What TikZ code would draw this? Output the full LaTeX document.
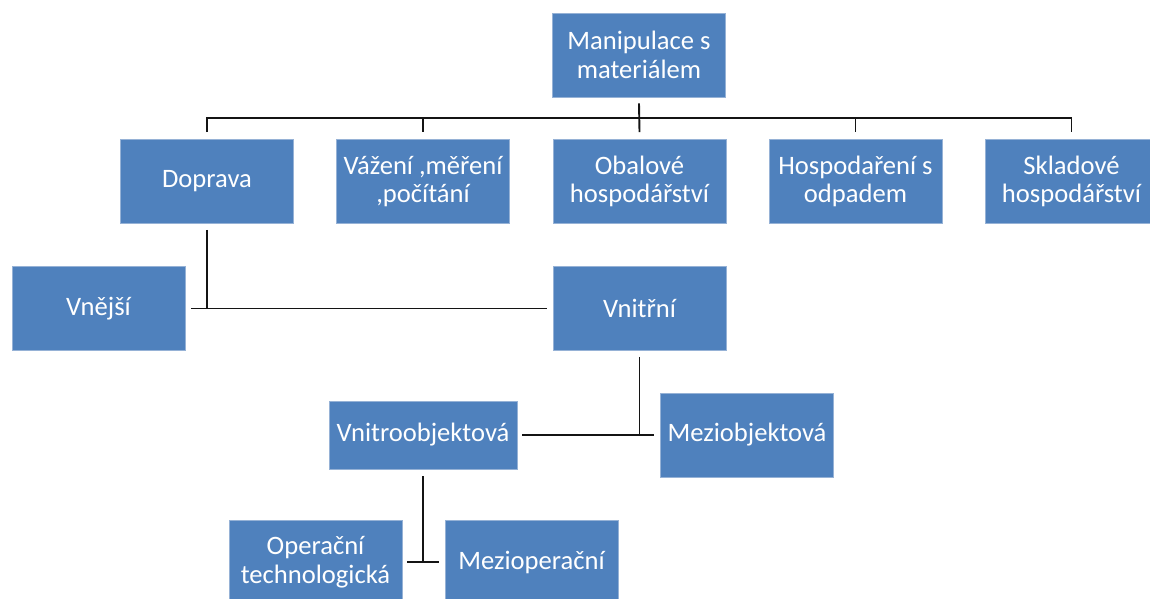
\documentclass[tikz,border=0pt]{standalone}
\usepackage{fontspec}
\setmainfont{Carlito}
\definecolor{boxblue}{RGB}{79,129,189}
\definecolor{boxedge}{RGB}{150,178,214}
\definecolor{linkcol}{RGB}{20,20,20}
\begin{document}
\begin{tikzpicture}[x=1pt,y=-1pt,
  unit/.style={rectangle, fill=boxblue, draw=boxedge, line width=0.6pt,
    minimum width=173pt, minimum height=84pt, inner sep=2pt,
    text=white, align=center, font=\fontsize{26.6}{28.5}\selectfont},
  link/.style={draw=linkcol, line width=1.9pt}]
\useasboundingbox (0,0) rectangle (1150,598);
\begin{scope}
\clip (0,0) rectangle (1150,598);
% top level
\node[unit] (top) at (639,55) {Manipulace s\\materiálem};
% second level
\node[unit] (doprava) at (207,181.5) {Doprava};
\node[unit] (vazeni)  at (423,181.5) {Vážení ,měření\\,počítání};
\node[unit] (obalove) at (639.5,181.5) {Obalové\\hospodářství};
\node[unit] (hosp)    at (855.5,181.5) {Hospodaření s\\odpadem};
\node[unit] (sklad)   at (1071.5,181.5) {Skladové\\hospodářství};
% transport branch
\node[unit] (vnejsi)  at (98.5,308.5) {Vnější};
\node[unit] (vnitrni) at (639.5,308.5) {Vnitřní};
\node[unit, minimum width=188pt, minimum height=68pt] (vnitroobj) at (423,435) {Vnitroobjektová};
\node[unit] (meziobj) at (747,435) {Meziobjektová};
\node[unit] (operacni) at (315.5,562) {Operační\\technologická};
\node[unit] (mezioper) at (531.5,562) {Mezioperační};
\end{scope}
% connectors from the top box
\coordinate (bus) at (639,118);
\draw[link] ([yshift=-6pt]top.south) -- ([yshift=7pt]obalove.north);
\draw[link] ([yshift=7pt]doprava.north) |- (bus -| sklad.north) -- ([yshift=7pt]sklad.north);
\draw[link] (bus -| vazeni.north) -- ([yshift=7pt]vazeni.north);
\draw[link] (bus -| hosp.north) -- ([yshift=7pt]hosp.north);
% Doprava -> Vnější / Vnitřní
\draw[link] ([yshift=-6pt]doprava.south) -- (doprava.south |- vnejsi.east);
\draw[link] ([xshift=6pt]vnejsi.east) -- ([xshift=-6pt]vnitrni.west);
% Vnitřní -> Vnitroobjektová / Meziobjektová
\draw[link] ([yshift=-6pt]vnitrni.south) -- (vnitrni.south |- meziobj.west);
\draw[link] ([xshift=5pt]vnitroobj.east) -- ([xshift=-6pt]meziobj.west);
% Vnitroobjektová -> Operační technologická / Mezioperační
\draw[link] ([yshift=-7pt]vnitroobj.south) -- (vnitroobj.south |- operacni.east);
\draw[link] ([xshift=5pt]operacni.east) -- ([xshift=-6pt]mezioper.west);
\end{tikzpicture}
\end{document}
